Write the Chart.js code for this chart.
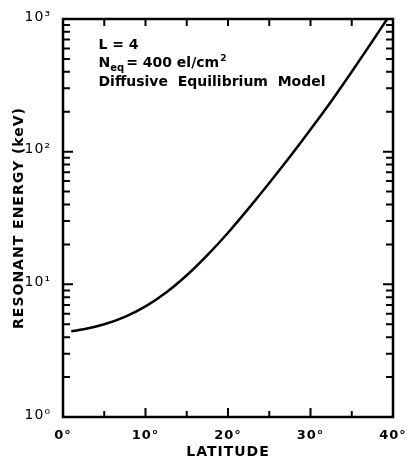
<!DOCTYPE html>
<html>
<head>
<meta charset="utf-8">
<script src="https://cdn.jsdelivr.net/npm/chart.js@4"></script>
<style>
  html, body { margin: 0; padding: 0; background: #fff; }
  #wrap { width: 414px; height: 459px; }
</style>
</head>
<body>
<div id="wrap"><canvas id="grafica" width="414" height="459"></canvas></div>
<script>
// Datos
const latitude = [1, 2.5, 5, 7.5, 10, 12.5, 15, 17.5, 20, 22.5, 25, 27.5, 30, 32.5, 35, 37.5, 39.3];
const energy = [4.43, 4.58, 5.0, 5.69, 6.82, 8.67, 11.7, 16.6, 24.5, 37.4, 58.1, 91.6, 147, 239, 400, 680, 1000];
const xTicks = [0, 10, 20, 30, 40];
const xMinorTicks = [5, 15, 25, 35];
const yTicks = [1, 10, 100, 1000];
const yTickLabels = ['10\u2070', '10\u00B9', '10\u00B2', '10\u00B3'];
const notes = ['L = 4', 'Diffusive  Equilibrium  Model'];

const points = latitude.map((x, i) => ({ x: x, y: energy[i] }));

// espaciado de letras como en el rotulado original
const spacingPlugin = {
  id: 'spacing',
  beforeDraw(chart) { chart.ctx.letterSpacing = '1px'; }
};

// Marco y marcas hacia adentro, dibujadas con las escalas de Chart.js
const framePlugin = {
  id: 'frame',
  afterDraw(chart) {
    const ctx = chart.ctx;
    const a = chart.chartArea;
    const xs = chart.scales.x, ys = chart.scales.y;
    ctx.save();
    ctx.letterSpacing = '0px';
    ctx.strokeStyle = '#000';
    ctx.lineWidth = 2;
    ctx.beginPath();
    // marcas en x
    xTicks.concat(xMinorTicks).forEach(v => {
      const px = xs.getPixelForValue(v);
      const major = xTicks.includes(v);
      ctx.moveTo(px, a.bottom); ctx.lineTo(px, a.bottom - (major ? 9 : 6));
      ctx.moveTo(px, a.top); ctx.lineTo(px, a.top + 7);
    });
    // marcas en y (log)
    for (let d = 1; d < 1000; d *= 10) {
      for (let m = 1; m <= 9; m++) {
        const py = ys.getPixelForValue(d * m);
        const len = m === 1 ? 10 : 7;
        ctx.moveTo(a.left, py); ctx.lineTo(a.left + len, py);
        ctx.moveTo(a.right, py); ctx.lineTo(a.right - len, py);
      }
    }
    ctx.stroke();
    ctx.lineWidth = 2.5;
    ctx.strokeRect(a.left, a.top, a.right - a.left, a.bottom - a.top);

    // textos del recuadro
    ctx.fillStyle = '#000';
    ctx.textBaseline = 'alphabetic';
    ctx.textAlign = 'left';
    const tx = xs.getPixelForValue(4.3);
    ctx.font = 'bold 14px "DejaVu Sans"';
    ctx.fillText(notes[0], tx, a.top + 30);
    ctx.fillText('N', tx, a.top + 48);
    let w = ctx.measureText('N').width;
    ctx.font = 'bold 10px "DejaVu Sans"';
    ctx.fillText('eq', tx + w, a.top + 52);
    w += ctx.measureText('eq').width + 2;
    ctx.font = 'bold 14px "DejaVu Sans"';
    ctx.fillText('= 400 el/cm', tx + w, a.top + 48);
    w += ctx.measureText('= 400 el/cm').width;
    ctx.font = 'bold 9px "DejaVu Sans"';
    ctx.fillText('2', tx + w + 1, a.top + 42);
    ctx.font = 'bold 14px "DejaVu Sans"';
    ctx.fillText(notes[1], tx, a.top + 67);
    ctx.restore();
  }
};

const ctx = document.getElementById('grafica').getContext('2d');
new Chart(ctx, {
  type: 'line',
  data: {
    datasets: [{
      data: points,
      borderColor: '#000',
      borderWidth: 2.5,
      pointRadius: 0,
      fill: false,
      cubicInterpolationMode: 'monotone'
    }]
  },
  options: {
    responsive: false,
    animation: false,
    layout: { padding: { top: 19, right: 21, left: 0, bottom: 0 } },
    plugins: { legend: { display: false }, tooltip: { enabled: false } },
    scales: {
      x: {
        type: 'linear',
        min: 0,
        max: 40,
        afterBuildTicks: s => { s.ticks = xTicks.map(v => ({ value: v })); },
        afterFit: s => { s.height = 42; },
        grid: { display: false },
        border: { display: false },
        ticks: {
          color: '#000',
          padding: 3,
          font: { family: 'DejaVu Sans', size: 13, weight: 'bold' },
          callback: v => v + '\u00B0'
        },
        title: {
          display: true,
          text: 'LATITUDE',
          color: '#000',
          padding: { top: 0, bottom: -2 },
          font: { family: 'DejaVu Sans', size: 14, weight: 'bold' }
        }
      },
      y: {
        type: 'logarithmic',
        min: 1,
        max: 1000,
        afterBuildTicks: s => { s.ticks = yTicks.map(v => ({ value: v })); },
        afterFit: s => { s.width = 63; },
        grid: { display: false },
        border: { display: false },
        ticks: {
          color: '#000',
          padding: 4,
          labelOffset: -2,
          font: { family: 'DejaVu Sans', size: 14 },
          callback: (v) => yTickLabels[yTicks.indexOf(v)]
        },
        title: {
          display: true,
          text: 'RESONANT ENERGY (keV)',
          color: '#000',
          padding: { top: 11, bottom: 0 },
          font: { family: 'DejaVu Sans', size: 14, weight: 'bold' }
        }
      }
    }
  },
  plugins: [spacingPlugin, framePlugin]
});
</script>
</body>
</html>
